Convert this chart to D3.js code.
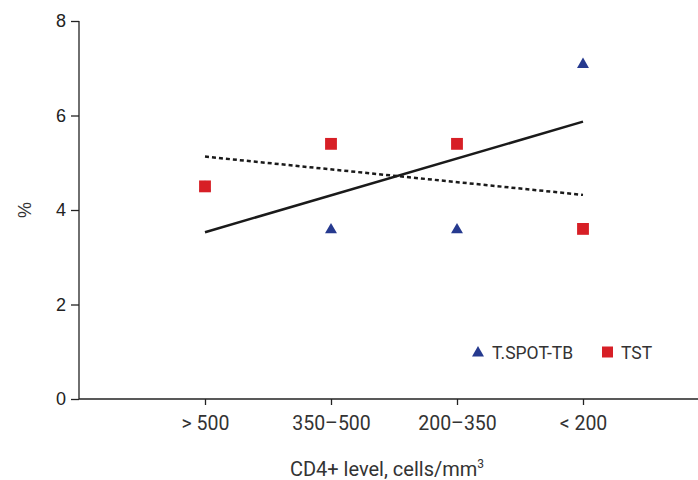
<!DOCTYPE html>
<html><head><meta charset="utf-8">
<script src="https://cdn.jsdelivr.net/npm/d3@7"></script>
<style>body{margin:0;background:#fff}svg{display:block}</style>
</head><body><svg id="c" width="698" height="480"></svg>
<script>
const categories = ["> 500", "350\u2013500", "200\u2013350", "< 200"];
const tspot = [4.5, 3.6, 3.6, 7.1];
const tst = [4.5, 5.4, 5.4, 3.6];
const yTicks = [0, 2, 4, 6, 8];

const svg = d3.select("#c");
const x = d3.scaleLinear().domain([-1, 4]).range([79, 709]);
const y = d3.scaleLinear().domain([0, 8]).range([399, 21]);

// axes
const ya = svg.append("g").attr("transform", "translate(79,0)")
  .call(d3.axisLeft(y).tickValues(yTicks).tickSize(8).tickPadding(5).tickFormat(d3.format("d")));
ya.select(".domain").attr("d", "M0,21V399").attr("stroke", "#222").attr("stroke-width", 1.3);
ya.selectAll(".tick line").attr("stroke", "#222").attr("stroke-width", 1.3);
ya.selectAll(".tick text").attr("font-family", "Liberation Sans, Arial, sans-serif").attr("font-size", 18).attr("fill", "#222");

const xa = svg.append("g").attr("transform", "translate(0,399)")
  .call(d3.axisBottom(x).tickValues(d3.range(categories.length)).tickFormat(i => categories[i]).tickSize(6).tickPadding(11));
xa.select(".domain").attr("d", "M79,0H698").attr("stroke", "#222").attr("stroke-width", 1.3);
xa.selectAll(".tick line").attr("stroke", "#222").attr("stroke-width", 1.3);
xa.selectAll(".tick text").attr("font-family", "Roboto, 'Noto Sans', sans-serif").attr("font-size", 19.5).attr("fill", "#333");

// axis titles
svg.append("text").attr("transform", "translate(31,210) rotate(-90)").attr("text-anchor", "middle")
  .attr("font-family", "Liberation Sans, Arial, sans-serif").attr("font-size", 18).attr("fill", "#333").text("%");
const xt = svg.append("text").attr("x", 387).attr("y", 476).attr("text-anchor", "middle")
  .attr("font-family", "Roboto, 'Noto Sans', sans-serif").attr("font-size", 20).attr("fill", "#333");
xt.append("tspan").text("CD4+ level, cells/mm");
xt.append("tspan").attr("font-size", 12).attr("dy", -8).text("3");

// regression trend lines
function fit(vals) {
  const xs = vals.map((_, i) => i);
  const mx = d3.mean(xs), my = d3.mean(vals);
  const b = d3.sum(xs, (xi, i) => (xi - mx) * (vals[i] - my)) / d3.sum(xs, xi => (xi - mx) ** 2);
  const a = my - b * mx;
  return [[0, a], [vals.length - 1, a + b * (vals.length - 1)]];
}
const line = d3.line().x(d => x(d[0])).y(d => y(d[1]));
svg.append("path").attr("d", line(fit(tspot))).attr("fill", "none").attr("stroke", "#1a1a1a").attr("stroke-width", 2.5);
svg.append("path").attr("d", line(fit(tst))).attr("fill", "none").attr("stroke", "#1a1a1a").attr("stroke-width", 2.5).attr("stroke-dasharray", "4,3");

const triangle = d3.symbol().type(d3.symbolTriangle).size(62);
const square = d3.symbol().type(d3.symbolSquare).size(140);
const blue = "#263a8f", red = "#d71f26";

svg.append("g").selectAll("path").data(tspot).join("path")
  .attr("transform", (d, i) => `translate(${x(i)},${y(d) + 1})`).attr("d", triangle).attr("fill", blue);
svg.append("g").selectAll("path").data(tst).join("path")
  .attr("transform", (d, i) => `translate(${x(i)},${y(d)})`).attr("d", square).attr("fill", red);

// legend
const lg = svg.append("g").attr("font-family", "Roboto, 'Noto Sans', sans-serif").attr("font-size", 17.5).attr("fill", "#333");
lg.append("path").attr("transform", "translate(478,353)").attr("d", triangle).attr("fill", blue);
lg.append("text").attr("x", 492).attr("y", 358.5).text("T.SPOT-TB");
lg.append("path").attr("transform", "translate(607.5,352)").attr("d", d3.symbol().type(d3.symbolSquare).size(121)).attr("fill", red);
lg.append("text").attr("x", 621).attr("y", 358.5).text("TST");
</script></body></html>
